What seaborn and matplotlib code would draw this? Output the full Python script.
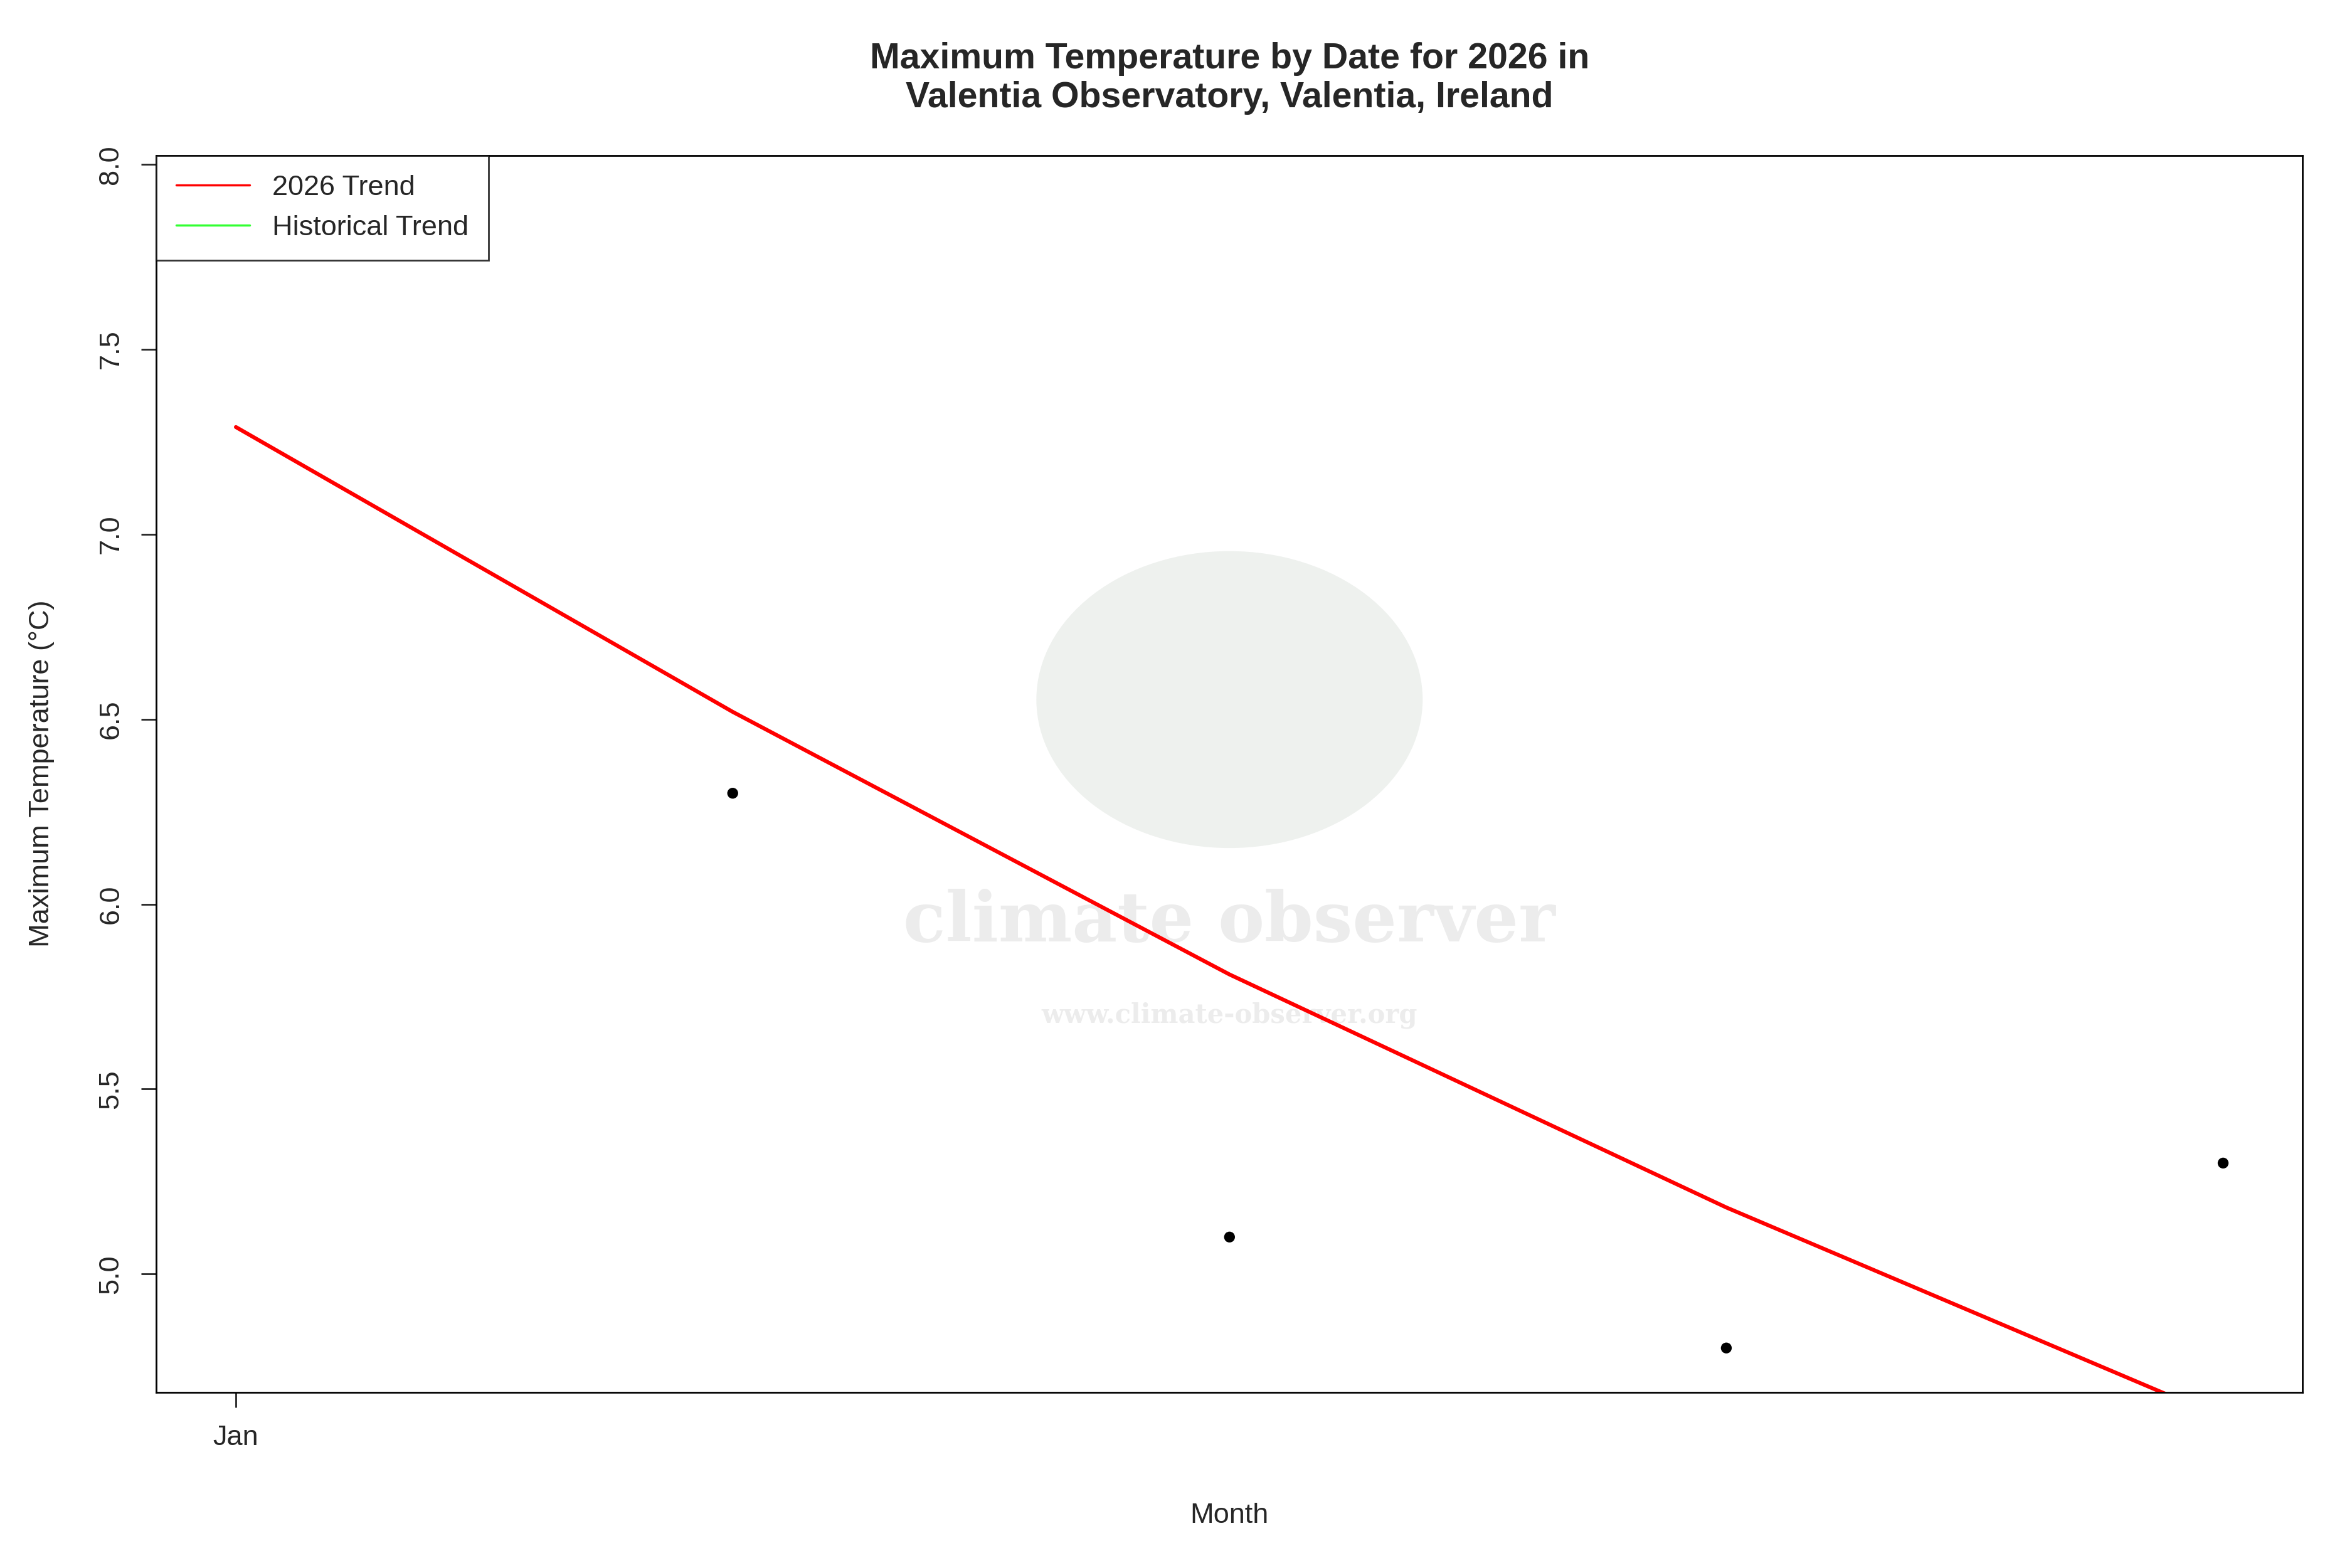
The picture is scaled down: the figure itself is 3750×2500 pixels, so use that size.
import numpy as np
import pandas as pd
import matplotlib
matplotlib.use("Agg")
import matplotlib.pyplot as plt
import seaborn as sns
from matplotlib.patches import Ellipse

# data
day = [2, 3, 4, 5]
tmax = [6.3, 5.1, 4.8, 5.3]
trend_day = [1, 2, 3, 4, 5]
trend_val = [7.29, 6.52, 5.81, 5.18, 4.61]

sns.set_style("white")
plt.rcParams['font.family'] = ['Liberation Sans', 'DejaVu Sans']

fig = plt.figure(figsize=(15, 10), dpi=250)
ax = fig.add_axes([0.0665, 0.112, 0.9125, 0.789])

# watermark
ax.add_patch(Ellipse((0.5, 0.56), 0.18, 0.24, transform=ax.transAxes,
                     color='#eef1ee', zorder=0, lw=0))
ax.text(0.5, 0.38, 'climate observer', transform=ax.transAxes, ha='center',
        va='center', fontsize=32, fontweight='bold', color='#ececec',
        family='DejaVu Serif', zorder=0)
ax.text(0.5, 0.305, 'www.climate-observer.org', transform=ax.transAxes,
        ha='center', va='center', fontsize=12, fontweight='bold',
        color='#ececec', family='DejaVu Serif', zorder=0)

sns.scatterplot(x=day, y=tmax, ax=ax, color='black', s=25, edgecolor='none', zorder=3)
sns.lineplot(x=trend_day, y=trend_val, ax=ax, color='red', lw=1.8, zorder=2)
ax.plot([], [], color='red', lw=1, label='2026 Trend')
ax.plot([], [], color='#33ff33', lw=1, label='Historical Trend')

ax.set_xlim(0.84, 5.16)
ax.set_ylim(4.68, 8.025)
ax.set_xticks([1])
ax.set_xticklabels(['Jan'])
ax.set_yticks([5.0, 5.5, 6.0, 6.5, 7.0, 7.5, 8.0])
ax.set_yticklabels([f'{v:.1f}' for v in [5.0, 5.5, 6.0, 6.5, 7.0, 7.5, 8.0]],
                   rotation=90, va='center')
ax.tick_params(axis='both', labelsize=13, length=7, width=0.8, left=True,
               bottom=True, pad=8)
for s in ax.spines.values():
    s.set_color('black')
    s.set_linewidth(0.8)

ax.set_xlabel('Month', fontsize=13, labelpad=24)
ax.set_ylabel('Maximum Temperature (°C)', fontsize=13, labelpad=20)
ax.set_title('Maximum Temperature by Date for 2026 in\nValentia Observatory, Valentia, Ireland',
             fontsize=16.5, fontweight='bold', pad=22)

leg = ax.legend(loc='upper left', fontsize=13, frameon=True, fancybox=False,
                borderaxespad=0, handlelength=2.6, borderpad=0.7)
leg.get_frame().set_edgecolor('black')
leg.get_frame().set_linewidth(0.8)

fig.savefig('out.png', dpi=250)
